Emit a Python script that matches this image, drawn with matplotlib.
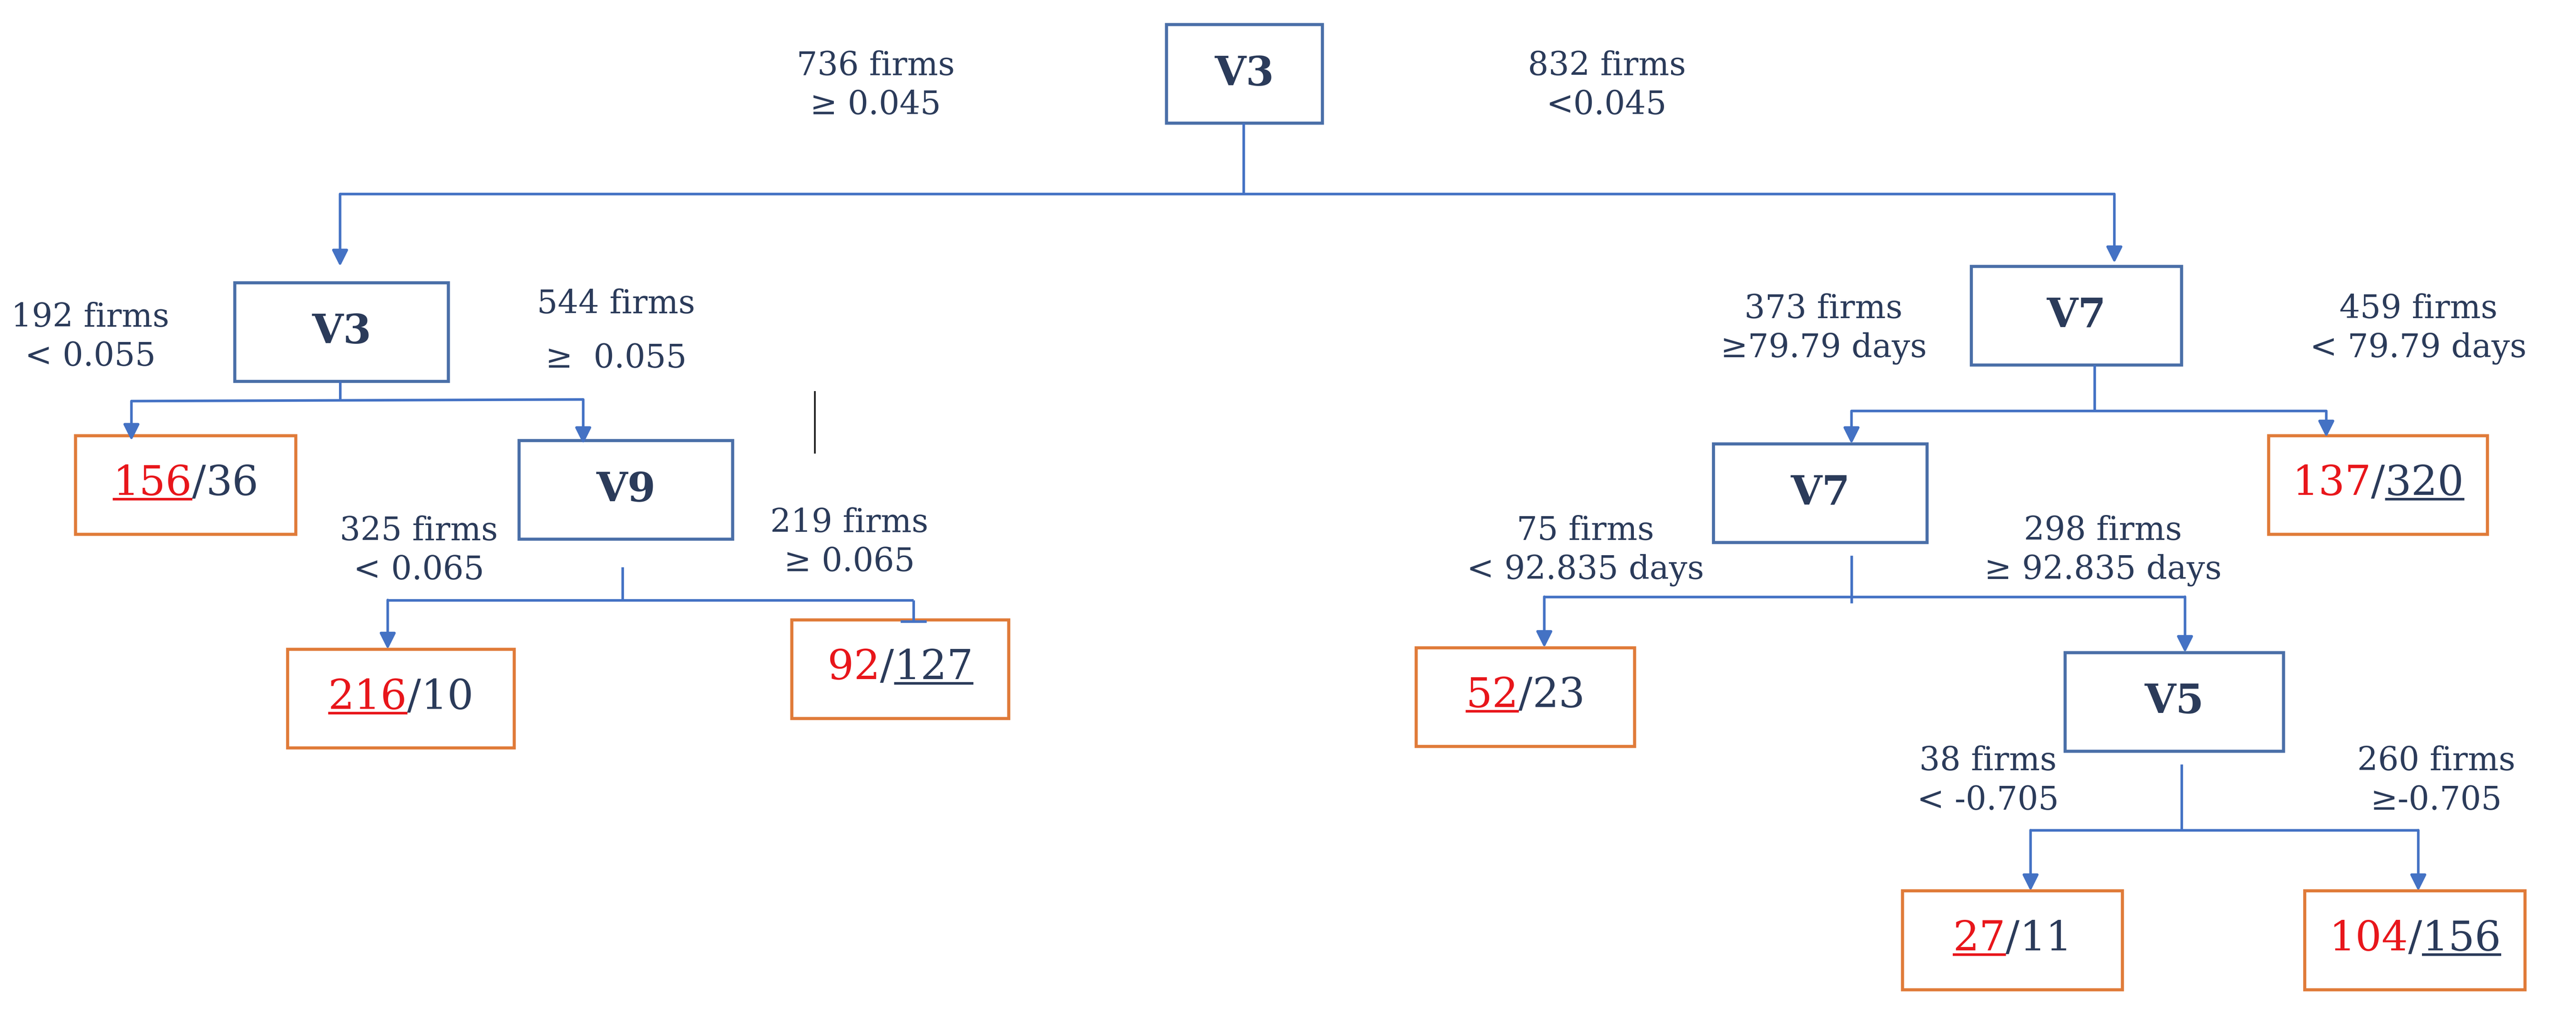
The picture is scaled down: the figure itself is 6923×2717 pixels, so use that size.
import matplotlib
matplotlib.use("Agg")
import matplotlib.pyplot as plt
from matplotlib.patches import Rectangle

W, H = 1568, 615
fig = plt.figure(figsize=(69.23, 27.17), dpi=100)
ax = fig.add_axes([0, 0, 1, 1])
ax.set_xlim(0, W); ax.set_ylim(H, 0); ax.axis("off")

NAVY = "#2b3b5a"; BLUE = "#4472c4"; BOXB = "#4a6fa8"; ORANGE = "#e07b39"; RED = "#e8161b"
FONT = "DejaVu Serif"

# decision nodes: name, box
node_names = ["V3", "V3", "V7", "V9", "V7", "V5"]
node_boxes = [(710, 15, 95, 60), (143, 172, 130, 60), (1200, 162, 128, 60),
              (316, 268, 130, 60), (1043, 270, 130, 60), (1257, 397, 133, 60)]

# leaves: red count, navy count, underline flags
leaf_red = [156, 216, 92, 137, 52, 27, 104]
leaf_navy = [36, 10, 127, 320, 23, 11, 156]
leaf_ul = [(1, 0), (1, 0), (0, 1), (0, 1), (1, 0), (1, 0), (0, 1)]
leaf_boxes = [(46, 265, 134, 60), (175, 395, 138, 60), (482, 377, 132, 60),
              (1381, 265, 133, 60), (862, 394, 133, 60), (1158, 542, 134, 60),
              (1403, 542, 134, 60)]

split_labels = ["736 firms\n≥ 0.045", "832 firms\n<0.045", "192 firms\n< 0.055",
                "325 firms\n< 0.065", "219 firms\n≥ 0.065", "373 firms\n≥79.79 days",
                "459 firms\n< 79.79 days", "75 firms\n< 92.835 days",
                "298 firms\n≥ 92.835 days", "38 firms\n< -0.705", "260 firms\n≥-0.705"]
split_pos = [(533, 52), (978, 52), (55, 205), (255, 335), (517, 330), (1110, 200),
             (1472, 200), (965, 335), (1280, 335), (1210, 475), (1483, 475)]

for name, (x, y, w, h) in zip(node_names, node_boxes):
    ax.add_patch(Rectangle((x, y), w, h, fill=False, ec=BOXB, lw=6))
    ax.text(x + w / 2, y + h / 2, name, ha="center", va="center", fontsize=78,
            fontweight="bold", color=NAVY, family=FONT)

for (x, y, w, h) in leaf_boxes:
    ax.add_patch(Rectangle((x, y), w, h, fill=False, ec=ORANGE, lw=6))

for t, (x, y) in zip(split_labels, split_pos):
    ax.text(x, y, t, ha="center", va="center", fontsize=63, color=NAVY,
            family=FONT, linespacing=1.3)
ax.text(375, 185, "544 firms", ha="center", va="center", fontsize=63, color=NAVY, family=FONT)
ax.text(375, 218, "≥  0.055", ha="center", va="center", fontsize=63, color=NAVY, family=FONT)

def seg(x0, y0, x1, y1, lw=5, c=BLUE):
    ax.plot([x0, x1], [y0, y1], color=c, lw=lw, solid_capstyle="butt")

def arrow(x, y0, y1):
    ax.annotate("", xy=(x, y1), xytext=(x, y0),
                arrowprops=dict(arrowstyle="-|>,head_length=2.6,head_width=1.3",
                                color=BLUE, lw=5, shrinkA=0, shrinkB=0))

# root
seg(757, 75, 757, 118); seg(207, 118, 1287, 118)
arrow(207, 118, 162); arrow(1287, 118, 160)
# left V3
seg(207, 232, 207, 244); seg(80, 244, 355, 243)
arrow(80, 244, 268); arrow(355, 243, 270)
seg(496, 238, 496, 276, c="black", lw=3)
# V9
seg(379, 345, 379, 365); seg(236, 365, 556, 365)
arrow(236, 365, 395); seg(556, 365, 556, 378); seg(548, 378, 564, 378)
# right V7
seg(1275, 222, 1275, 250); seg(1127, 250, 1416, 250)
arrow(1127, 250, 270); arrow(1416, 250, 266)
# mid V7
seg(1127, 338, 1127, 367); seg(940, 363, 1330, 363)
arrow(940, 363, 394); arrow(1330, 363, 397)
# V5
seg(1328, 465, 1328, 505); seg(1236, 505, 1472, 505)
arrow(1236, 505, 542); arrow(1472, 505, 542)

# leaf texts with underlines
fig.canvas.draw()
r = fig.canvas.get_renderer()
inv = ax.transData.inverted()
for red, navy, ul, (x, y, w, h) in zip(leaf_red, leaf_navy, leaf_ul, leaf_boxes):
    parts = [(str(red), RED, ul[0]), ("/", NAVY, 0), (str(navy), NAVY, ul[1])]
    widths = []
    objs = []
    for s, c, u in parts:
        t = ax.text(0, 0, s, fontsize=80, color=c, family=FONT, va="baseline")
        bb = t.get_window_extent(r)
        widths.append(bb.width); objs.append(t)
    total = sum(widths)
    cx, cy = ax.transData.transform((x + w / 2, y + h / 2))
    px = cx - total / 2
    base = cy - 27
    for (s, c, u), t, wd in zip(parts, objs, widths):
        xd, yd = inv.transform((px, base))
        t.set_position((xd, yd))
        if u:
            x0, yu = inv.transform((px + 3, base - 11))
            x1, _ = inv.transform((px + wd - 3, base - 11))
            ax.plot([x0, x1], [yu, yu], color=c, lw=5)
        px += wd

fig.savefig("out.png", dpi=100, facecolor="white")
